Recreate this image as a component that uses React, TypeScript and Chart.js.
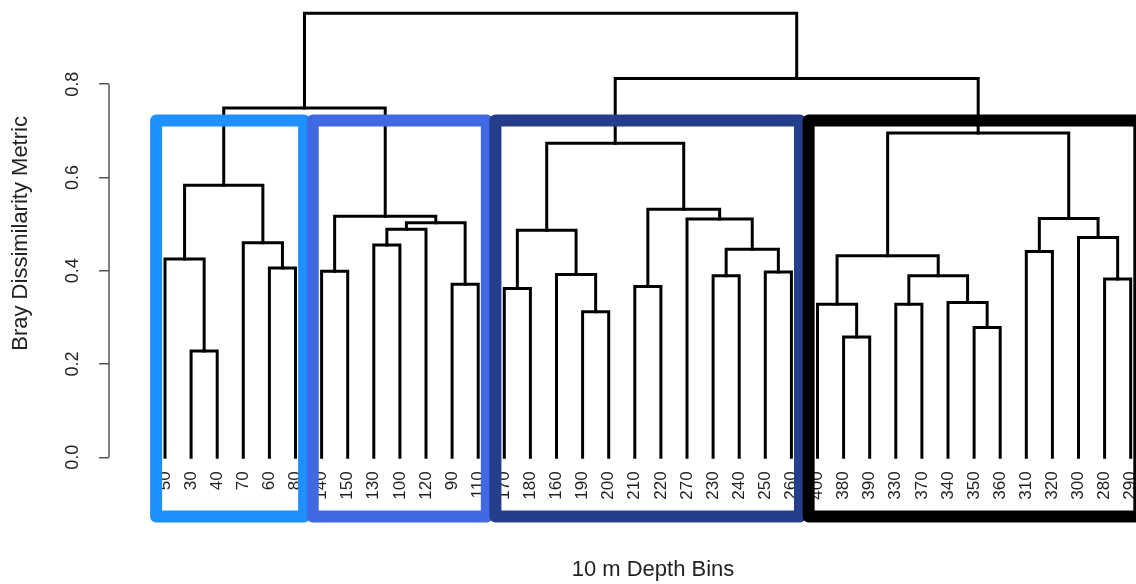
import React, { useEffect, useRef } from "react";
import { Chart, registerables } from "chart.js";

Chart.register(...registerables);

// Leaf order as displayed (10 m depth bins)
const leafLabels = [
  "50", "30", "40", "70", "60", "80",
  "140", "150", "130", "100", "120", "90", "110",
  "170", "180", "160", "190", "200", "210", "220", "270", "230", "240", "250", "260",
  "400", "380", "390", "330", "370", "340", "350", "360", "310", "320", "300", "280", "290",
];

// Merge table: left child, right child (leaf label or "#n" = n-th merge), height
const mergeLeft = [
  "30", "380", "350", "190", "330", "400", "340", "170", "210", "90",
  "280", "230", "#5", "160", "250", "140", "60", "50", "#6", "310",
  "#12", "130", "70", "300", "#8", "#22", "#26", "270", "#20", "#16",
  "#9", "#18", "#25", "#19", "#32", "#33", "#35",
];
const mergeRight = [
  "40", "390", "360", "200", "370", "#2", "#3", "180", "220", "110",
  "290", "240", "#7", "#4", "260", "150", "80", "#1", "#13", "320",
  "#15", "100", "#17", "#11", "#14", "120", "#10", "#21", "#24", "#27",
  "#28", "#23", "#31", "#29", "#30", "#34", "#36",
];
const mergeHeight = [
  0.228, 0.258, 0.278, 0.312, 0.328, 0.328, 0.332, 0.362, 0.366, 0.371,
  0.382, 0.389, 0.389, 0.392, 0.397, 0.399, 0.406, 0.425, 0.432, 0.441,
  0.446, 0.455, 0.46, 0.471, 0.487, 0.489, 0.503, 0.511, 0.512, 0.517,
  0.532, 0.583, 0.673, 0.695, 0.749, 0.812, 0.952,
];

// Four highlighted clusters (rect.hclust, k = 4)
const clusterSizes = [6, 7, 12, 13];
const clusterColors = ["#1E90FF", "#4169E1", "#253E8C", "#000000"];

const yTickValues = [0, 0.2, 0.4, 0.6, 0.8];
const yTickLabels = ["0.0", "0.2", "0.4", "0.6", "0.8"];

const X_TITLE = "10 m Depth Bins";
const Y_TITLE = "Bray Dissimilarity Metric";

// The plot region runs past the visible right edge (as in the cropped original)
const CANVAS_W = 1197;
const CANVAS_H = 584;

export default function App() {
  const ref = useRef<HTMLCanvasElement | null>(null);

  useEffect(() => {
    if (!ref.current) return;
    Chart.defaults.font.family = "'Liberation Sans', Arial, sans-serif";

    // dendrogram segments
    const nodeX: Record<string, number> = {};
    const nodeH: Record<string, number> = {};
    leafLabels.forEach((l, i) => {
      nodeX[l] = i;
      nodeH[l] = 0;
    });
    const dendroSets: any[] = [];
    for (let i = 0; i < mergeHeight.length; i++) {
      const a = mergeLeft[i];
      const b = mergeRight[i];
      const h = mergeHeight[i];
      const xa = nodeX[a];
      const xb = nodeX[b];
      dendroSets.push({
        data: [
          { x: xa, y: nodeH[a] },
          { x: xa, y: h },
          { x: xb, y: h },
          { x: xb, y: nodeH[b] },
        ],
        borderColor: "#000000",
        borderWidth: 3,
        pointRadius: 0,
        fill: false,
        tension: 0,
        clip: false,
        order: 10,
        borderJoinStyle: "miter",
        borderCapStyle: "square",
      });
      nodeX["#" + (i + 1)] = (xa + xb) / 2;
      nodeH["#" + (i + 1)] = h;
    }

    // cluster rectangles
    const sorted = [...mergeHeight].sort((p, q) => q - p);
    const k = clusterSizes.length;
    const rectTop = (sorted[k - 2] + sorted[k - 1]) / 2;
    const rectBottom = -0.127;
    const rectSets: any[] = [];
    let start = 0;
    clusterSizes.forEach((n, ci) => {
      const x0 = start - 0.34;
      const x1 = start + n - 1 + 0.33;
      rectSets.push({
        data: [
          { x: x0, y: rectBottom },
          { x: x0, y: rectTop },
          { x: x1, y: rectTop },
          { x: x1, y: rectBottom },
          { x: x0, y: rectBottom },
        ],
        borderColor: clusterColors[ci],
        borderWidth: 12,
        pointRadius: 0,
        fill: false,
        tension: 0,
        clip: false,
        order: k - 1 - ci,
        borderJoinStyle: "round",
        borderCapStyle: "round",
      });
      start += n;
    });

    const plotLeft = 109;
    const leaf0 = 165;
    const leafStep = 26.1;
    const xMin = (plotLeft - leaf0) / leafStep;
    const xMax = (CANVAS_W - leaf0) / leafStep;

    const axisSet = {
      data: [
        { x: xMin, y: yTickValues[0] },
        { x: xMin, y: yTickValues[yTickValues.length - 1] },
      ],
      borderColor: "#555555",
      borderWidth: 1.5,
      pointRadius: 0,
      fill: false,
      clip: false,
      order: 10,
    };

    const chart = new Chart(ref.current, {
      type: "line",
      data: { datasets: [...rectSets, ...dendroSets, axisSet] as any },
      options: {
        animation: false,
        responsive: false,
        maintainAspectRatio: false,
        devicePixelRatio: 1,
        events: [],
        layout: { padding: { top: 9.5, right: 0, bottom: 0, left: 0 } },
        plugins: { legend: { display: false }, tooltip: { enabled: false } },
        scales: {
          x: {
            type: "linear",
            min: xMin,
            max: xMax,
            afterBuildTicks: (s: any) => {
              s.ticks = leafLabels.map((_, i) => ({ value: i }));
            },
            afterFit: (s: any) => {
              s.height = CANVAS_H - 457.3;
              s.paddingLeft = 0;
              s.paddingRight = 0;
            },
            ticks: {
              autoSkip: false,
              minRotation: 90,
              maxRotation: 90,
              padding: 14,
              color: "#222222",
              font: { size: 17 },
              callback: (v: any) => leafLabels[Math.round(Number(v))],
            },
            grid: { display: false, drawTicks: false },
            border: { display: false },
            title: {
              display: true,
              text: X_TITLE,
              color: "#222222",
              font: { size: 22 },
              padding: { top: 0, bottom: 1 },
            },
          },
          y: {
            type: "linear",
            min: 0,
            max: 0.96,
            afterBuildTicks: (s: any) => {
              s.ticks = yTickValues.map((v) => ({ value: v }));
            },
            afterFit: (s: any) => {
              s.width = plotLeft;
              s.paddingTop = 0;
              s.paddingBottom = 0;
            },
            ticks: {
              minRotation: 90,
              maxRotation: 90,
              crossAlign: "center",
              padding: 13,
              color: "#222222",
              font: { size: 18 },
              callback: (v: any) => {
                const idx = yTickValues.findIndex((t) => Math.abs(t - Number(v)) < 1e-6);
                return idx >= 0 ? yTickLabels[idx] : "";
              },
            },
            grid: {
              drawOnChartArea: false,
              drawTicks: true,
              tickLength: 10,
              color: "#555555",
              lineWidth: 1.5,
            },
            border: { display: false },
            title: {
              display: true,
              text: Y_TITLE,
              color: "#222222",
              font: { size: 22 },
              padding: { top: 8, bottom: 0 },
            },
          },
        },
      } as any,
    });
    return () => chart.destroy();
  }, []);

  return (
    <div
      style={{
        position: "absolute",
        left: 0,
        top: 0,
        width: 1136,
        height: CANVAS_H,
        overflow: "hidden",
        background: "#ffffff",
      }}
    >
      <canvas ref={ref} width={CANVAS_W} height={CANVAS_H} style={{ display: "block" }} />
    </div>
  );
}
